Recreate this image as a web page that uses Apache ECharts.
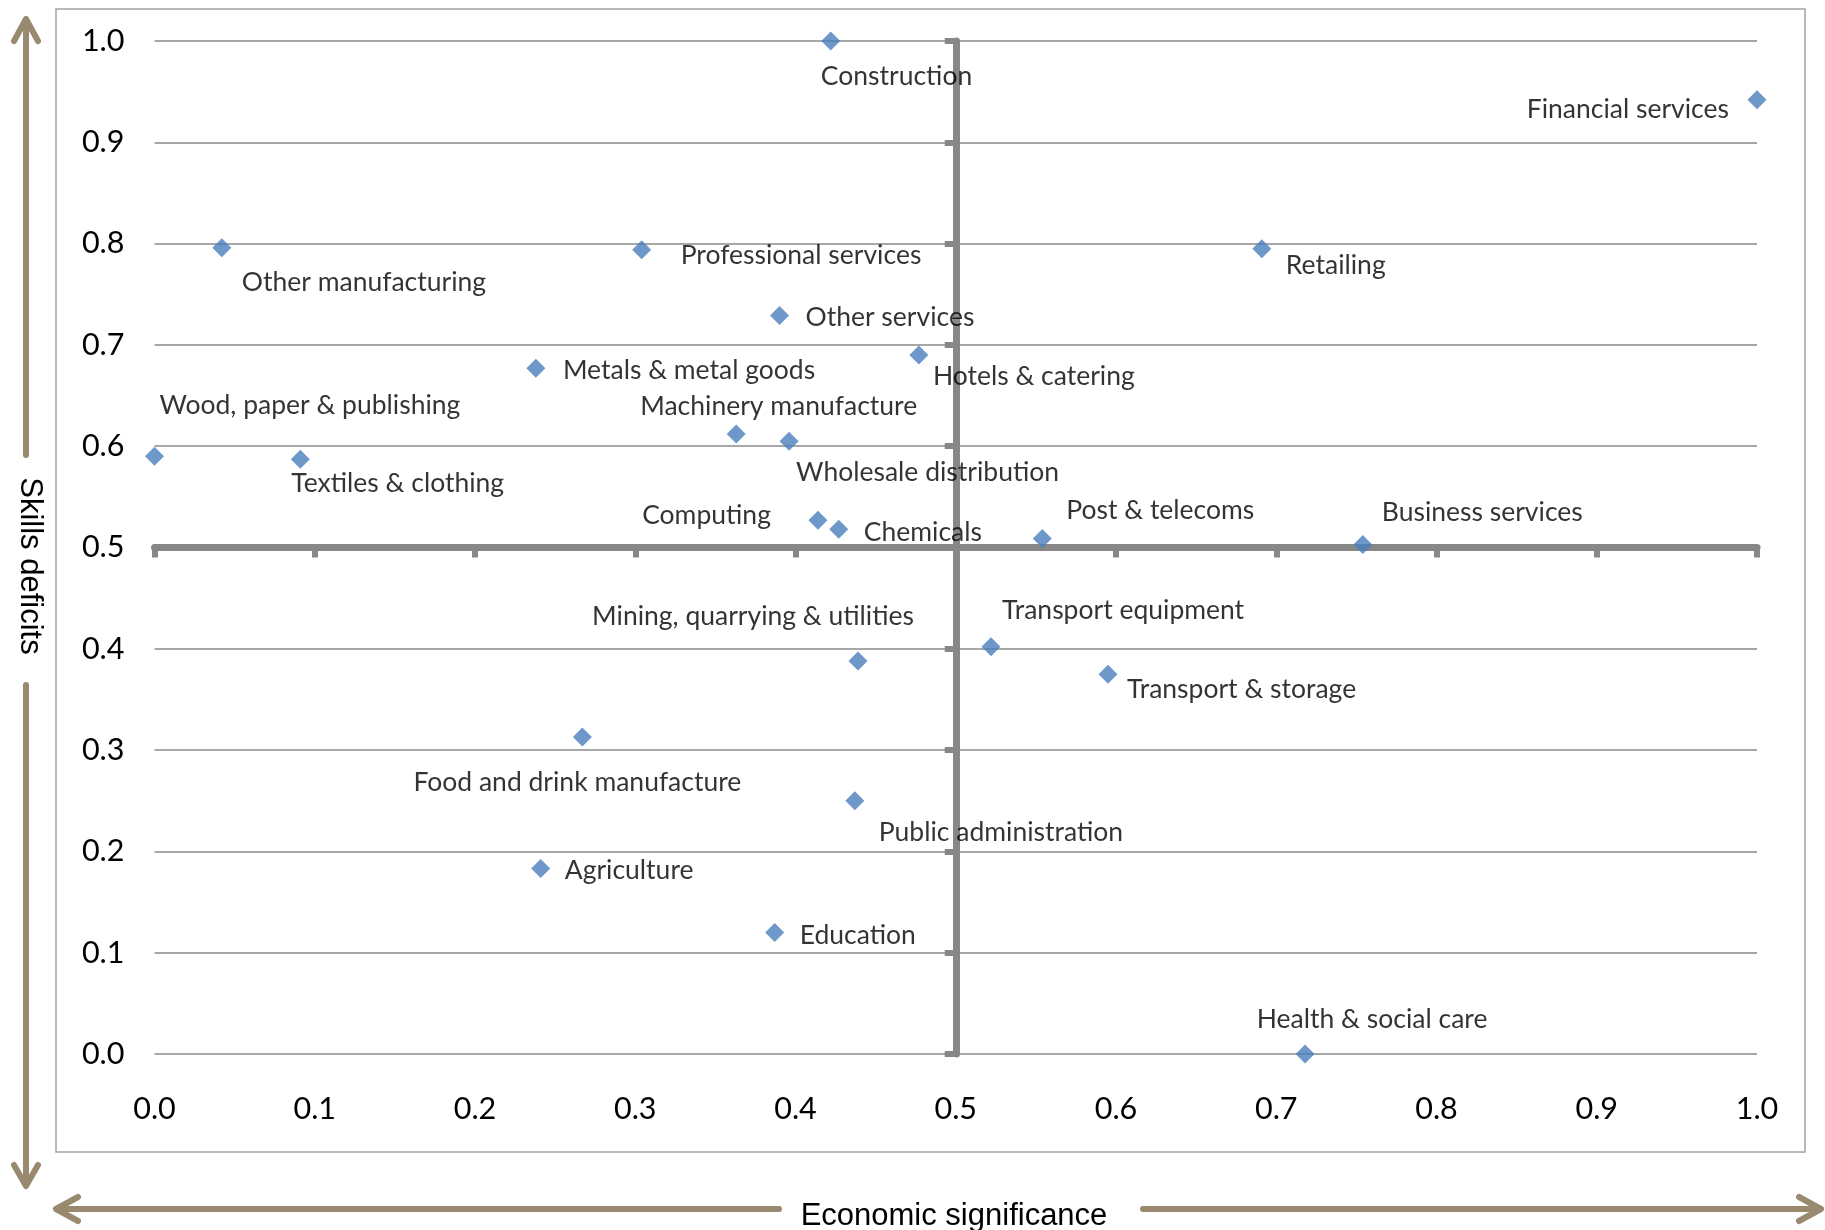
<!DOCTYPE html>
<html><head><meta charset="utf-8">
<script src="https://cdn.jsdelivr.net/npm/echarts@6/dist/echarts.min.js"></script>
<style>html,body{margin:0;padding:0;background:#fff}#c{width:1825px;height:1230px}</style>
</head><body><div id="c"></div>
<script>
// ---- data ----
const sectors = ['Construction', 'Financial services', 'Other manufacturing', 'Professional services', 'Retailing',
  'Other services', 'Hotels & catering', 'Metals & metal goods', 'Machinery manufacture', 'Wholesale distribution',
  'Wood, paper & publishing', 'Textiles & clothing', 'Computing', 'Chemicals', 'Post & telecoms', 'Business services',
  'Transport equipment', 'Mining, quarrying & utilities', 'Transport & storage', 'Food and drink manufacture',
  'Public administration', 'Agriculture', 'Education', 'Health & social care'];
const economicSignificance = [0.422, 1.0, 0.042, 0.304, 0.691, 0.390, 0.477, 0.238, 0.363, 0.396, 0.0, 0.091,
  0.414, 0.427, 0.554, 0.754, 0.522, 0.439, 0.595, 0.267, 0.437, 0.241, 0.387, 0.718];
const skillsDeficits = [1.0, 0.942, 0.796, 0.794, 0.795, 0.729, 0.690, 0.677, 0.612, 0.605, 0.590, 0.587,
  0.527, 0.518, 0.509, 0.503, 0.402, 0.388, 0.375, 0.313, 0.250, 0.183, 0.120, 0.0];
const xTickLabels = ['0.0', '0.1', '0.2', '0.3', '0.4', '0.5', '0.6', '0.7', '0.8', '0.9', '1.0'];
const yTickLabels = ['0.0', '0.1', '0.2', '0.3', '0.4', '0.5', '0.6', '0.7', '0.8', '0.9', '1.0'];
const xAxisTitle = 'Economic significance';
const yAxisTitle = 'Skills deficits';

// ---- label placement (layout only): [dx, dy, align] relative to the marker ----
const labelPlacement = [
  [-10, 35, 'left'], [-28, 10, 'right'], [20, 35, 'left'], [39, 6, 'left'], [24, 17, 'left'],
  [26, 2, 'left'], [14, 21, 'left'], [27, 2, 'left'], [-96, -28, 'left'], [7, 31, 'left'],
  [5, -51, 'left'], [-9, 24, 'left'], [-47, -5, 'right'], [25, 3, 'left'], [24, -28, 'left'],
  [19, -32, 'left'], [11, -36, 'left'], [56, -45, 'right'], [19, 15, 'left'], [-5, 46, 'center'],
  [24, 32, 'left'], [24, 2, 'left'], [25, 3, 'left'], [67, -35, 'center']
];

const G = { left: 154.5, top: 41, width: 1602.5, height: 1013 };
const AXIS_GREY = '#878787';
const ARROW = '#998A6F';
const labelFont = 'Lato';

const points = sectors.map((name, i) => ({
  name,
  value: [economicSignificance[i], skillsDeficits[i]],
  label: {
    show: true,
    position: ['50%', '50%'],
    align: labelPlacement[i][2],
    verticalAlign: 'middle',
    offset: [labelPlacement[i][0], labelPlacement[i][1]],
    formatter: '{b}',
    fontFamily: labelFont,
    fontSize: 26.5,
    color: '#000'
  }
}));

const chart = echarts.init(document.getElementById('c'), null, { renderer: 'canvas' });
const fmt = labels => v => labels[Math.round(v * 10)] ?? '';
chart.setOption({
  animation: false,
  backgroundColor: '#fff',
  grid: {
    left: G.left, top: G.top, width: G.width, height: G.height,
    containLabel: false, outerBoundsMode: 'none'
  },
  xAxis: [
    {
      type: 'value', min: 0, max: 1, interval: 0.1, position: 'bottom',
      axisLine: { show: false }, axisTick: { show: false }, splitLine: { show: false },
      axisLabel: { formatter: fmt(xTickLabels), fontFamily: labelFont, fontSize: 30.5, color: '#000', margin: 40 }
    },
    {
      type: 'value', min: 0, max: 1, interval: 0.1, position: 'bottom', offset: -G.height / 2,
      axisLine: { show: true, lineStyle: { color: AXIS_GREY, width: 7 } },
      axisTick: { show: true, length: 10, lineStyle: { color: AXIS_GREY, width: 6 } },
      axisLabel: { show: false }, splitLine: { show: false }
    }
  ],
  yAxis: [
    {
      type: 'value', min: 0, max: 1, interval: 0.1, position: 'left',
      axisLine: { show: false }, axisTick: { show: false },
      splitLine: { show: true, lineStyle: { color: '#8a8a8a', width: 1.6 } },
      axisLabel: { formatter: fmt(yTickLabels), fontFamily: labelFont, fontSize: 30.5, color: '#000', margin: 30 }
    },
    {
      type: 'value', min: 0, max: 1, interval: 0.1, position: 'left', offset: -G.width / 2,
      axisLine: { show: true, lineStyle: { color: AXIS_GREY, width: 7 } },
      axisTick: { show: true, length: 11, lineStyle: { color: AXIS_GREY, width: 6 } },
      axisLabel: { show: false }, splitLine: { show: false }
    }
  ],
  series: [{
    type: 'scatter',
    xAxisIndex: 0, yAxisIndex: 0,
    symbol: 'diamond',
    symbolSize: 19,
    itemStyle: { color: '#4A7EBB' },
    data: points,
    z: 5
  }],
  graphic: [
    { type: 'rect', shape: { x: 56, y: 9, width: 1749, height: 1143 },
      style: { fill: null, stroke: '#a3a3a3', lineWidth: 1.5 }, silent: true },
    // vertical arrow
    { type: 'line', shape: { x1: 26, y1: 20, x2: 26, y2: 455 }, style: { stroke: ARROW, lineWidth: 6, lineCap: 'round' } },
    { type: 'line', shape: { x1: 26, y1: 685, x2: 26, y2: 1185 }, style: { stroke: ARROW, lineWidth: 6, lineCap: 'round' } },
    { type: 'polyline', shape: { points: [[14, 41], [26, 19], [38, 41]] }, style: { stroke: ARROW, lineWidth: 6, lineCap: 'round', lineJoin: 'round', fill: null } },
    { type: 'polyline', shape: { points: [[14, 1165], [26, 1186], [38, 1165]] }, style: { stroke: ARROW, lineWidth: 6, lineCap: 'round', lineJoin: 'round', fill: null } },
    // horizontal arrow
    { type: 'line', shape: { x1: 57, y1: 1209, x2: 779, y2: 1209 }, style: { stroke: ARROW, lineWidth: 6, lineCap: 'round' } },
    { type: 'line', shape: { x1: 1143, y1: 1209, x2: 1820, y2: 1209 }, style: { stroke: ARROW, lineWidth: 6, lineCap: 'round' } },
    { type: 'polyline', shape: { points: [[78, 1197], [56, 1209], [78, 1221]] }, style: { stroke: ARROW, lineWidth: 6, lineCap: 'round', lineJoin: 'round', fill: null } },
    { type: 'polyline', shape: { points: [[1799, 1197], [1821, 1209], [1799, 1221]] }, style: { stroke: ARROW, lineWidth: 6, lineCap: 'round', lineJoin: 'round', fill: null } },
    // axis titles
    { type: 'text', x: 30, y: 566, rotation: -Math.PI / 2,
      style: { text: yAxisTitle, font: '31px "Liberation Sans", Arial, sans-serif', fill: '#000', align: 'center', verticalAlign: 'middle' } },
    { type: 'text', x: 954, y: 1216,
      style: { text: xAxisTitle, font: '31px "Liberation Sans", Arial, sans-serif', fill: '#000', align: 'center', verticalAlign: 'middle' } }
  ]
});
</script>
</body></html>
